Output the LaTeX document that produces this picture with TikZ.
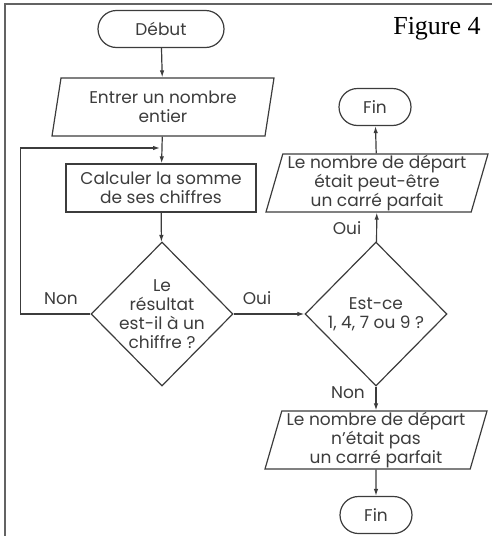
\documentclass[tikz,border=0pt]{standalone}
\usepackage{fontspec}
\setmainfont{Poppins}
\newfontfamily\figfont{Liberation Serif}
\usetikzlibrary{shapes.geometric,shapes.misc,arrows.meta}

\definecolor{ink}{HTML}{3C3C3C}

\tikzset{
    line/.style={draw=ink, line width=1.2pt},
    terminal/.style={line, rounded rectangle, minimum height=37pt, inner sep=2pt},
    io/.style={line, trapezium, trapezium left angle=72, trapezium right angle=108,
        trapezium stretches body, minimum width=222pt, minimum height=58pt,
        inner xsep=1pt, inner ysep=-2pt, align=center},
    process/.style={line, rectangle, minimum width=190pt, minimum height=48pt, align=center},
    decision/.style={line, diamond, minimum width=142pt, minimum height=144pt,
        inner sep=-30pt, align=center},
    flow/.style={line, -{Latex[length=7pt,width=4.5pt]}},
    answer/.style={text=ink},
}

\begin{document}
\begin{tikzpicture}[x=1pt, y=-1pt, font=\fontsize{17}{19}\selectfont, text=ink]
    \useasboundingbox (0,0) rectangle (491,536);
    % Frame
    \draw[ink!80, line width=1.4pt] (5,545) -- (5,4) -- (500,4);
    \node[font=\figfont\fontsize{26}{30}\selectfont, text=black] (titre) at (437,29) {Figure 4};

    % Left column
    \node[terminal, minimum width=130pt] (debut) at (161,29) {Début};
    \node[io] (entrer) at (163,107) {Entrer un nombre\\entier};
    \node[process] (calcul) at (161,188) {Calculer la somme\\de ses chiffres};
    \node[decision] (test) at (162,314) {Le\\résultat\\est-il à un\\chiffre ?};

    % Right column
    \node[decision] (carre) at (376,314) {Est-ce\\1, 4, 7 ou 9 ?};
    \node[io] (peutetre) at (377,183) {Le nombre de départ\\était peut-être\\un carré parfait};
    \node[terminal, minimum width=76pt] (finA) at (375,107) {Fin};
    \node[io] (pas) at (376,440) {Le nombre de départ\\n'était pas\\un carré parfait};
    \node[terminal, minimum width=76pt] (finB) at (376,515) {Fin};

    % Connectors
    \foreach \a/\b in {debut/entrer, entrer/calcul, calcul/test, test/carre,
        carre/peutetre, peutetre/finA, carre/pas, pas/finB} {
        \draw[flow] (\a) -- (\b);
    }
    \coordinate (boucle) at (160,148);
    \draw[flow] (test.west) -- ++(-70,0) |- (boucle);

    % Answers
    \node[answer] (nonA) at (61,299) {Non};
    \node[answer] (ouiA) at (257,298) {Oui};
    \node[answer] (ouiB) at (347,228) {Oui};
    \node[answer] (nonB) at (348,393) {Non};
\end{tikzpicture}
\end{document}
